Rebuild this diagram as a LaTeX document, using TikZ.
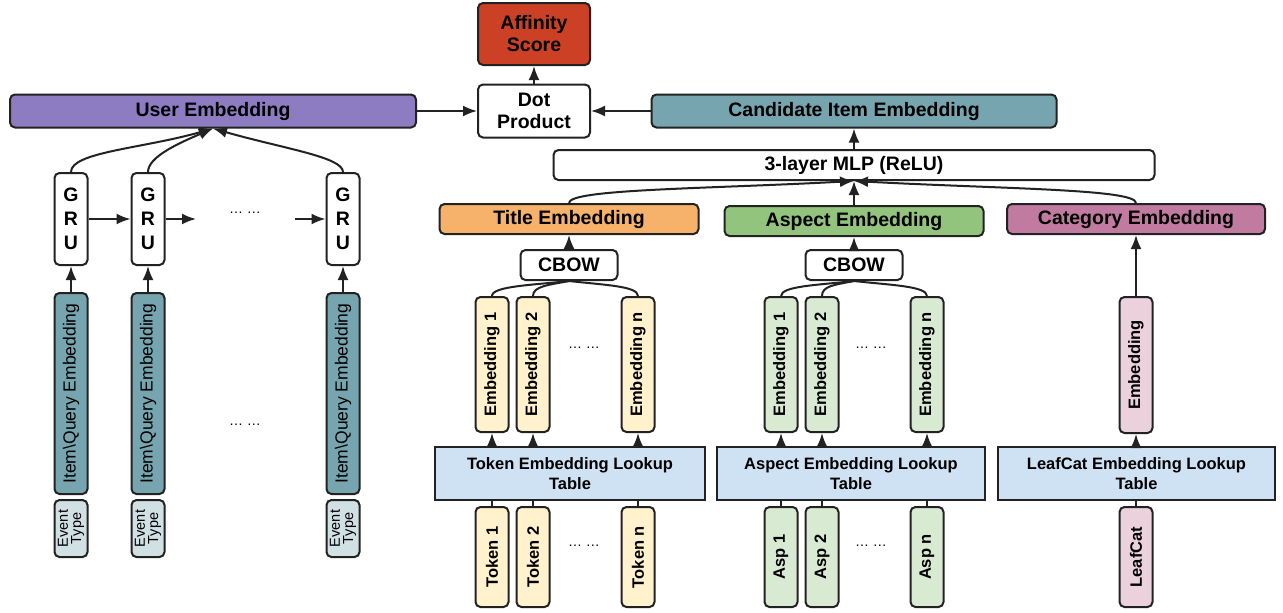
\documentclass[tikz,border=0pt]{standalone}
\usepackage{fontspec}
\setmainfont{Liberation Sans}
\usepackage{tikz}
\usetikzlibrary{positioning}
\usetikzlibrary{arrows.meta}
\definecolor{boxline}{HTML}{222222}
\definecolor{scorered}{HTML}{CC4125}
\definecolor{userpurple}{HTML}{8E7CC3}
\definecolor{itemteal}{HTML}{76A5AF}
\definecolor{titleorange}{HTML}{F6B26B}
\definecolor{aspectgreen}{HTML}{93C47D}
\definecolor{catpink}{HTML}{C27BA0}
\definecolor{tokenyellow}{HTML}{FFF2CC}
\definecolor{asplight}{HTML}{D9EAD3}
\definecolor{catlight}{HTML}{EAD1DC}
\definecolor{lookupblue}{HTML}{CFE2F3}
\definecolor{eventcyan}{HTML}{D0E0E3}

\begin{document}
\begin{tikzpicture}[x=1pt,y=-1pt,
  box/.style={draw=boxline, line width=2pt, rounded corners=5pt, inner sep=1pt, align=center, font=\bfseries\fontsize{19.5}{22}\selectfont},
  vbox/.style={box, minimum width=33pt, font=\bfseries\fontsize{16.5}{18}\selectfont},
  lookup/.style={box, rounded corners=0pt, fill=lookupblue, minimum height=53pt, font=\bfseries\fontsize{16.5}{20}\selectfont},
  link/.style={draw=boxline, line width=2pt},
  arr/.style={link, -{Latex[length=14pt,width=11pt]}},
  dots/.style={font=\fontsize{14}{14}\selectfont}
]
\useasboundingbox (0,0) rectangle (1283,613);

% top of the model
\node (score) at (534,34) [box, fill=scorered, minimum width=112pt, minimum height=62pt] {Affinity\\Score};
\node (dot) at (534,111) [box, fill=white, minimum width=112pt, minimum height=53pt] {Dot\\Product};
\node (user) at (213,111) [box, fill=userpurple, minimum width=406pt, minimum height=33pt] {User Embedding};
\node (cand) at (854,111) [box, fill=itemteal, minimum width=405pt, minimum height=33pt] {Candidate Item Embedding};
\node (mlp) at (854,165) [box, fill=white, minimum width=601pt, minimum height=30pt] {3-layer MLP (ReLU)};
\draw[arr] (user) -- (dot);
\draw[arr] (cand) -- (dot);
\draw[arr] (dot) -- (score);
\draw[arr] (mlp) -- (cand);

% user side
\node (gru1) at (71,219) [box, fill=white, minimum width=33pt, minimum height=92pt, font=\bfseries\fontsize{19.5}{24}\selectfont] {G\\R\\U};
\node (gru2) at (148,219) [box, fill=white, minimum width=33pt, minimum height=92pt, font=\bfseries\fontsize{19.5}{24}\selectfont] {G\\R\\U};
\node (gru3) at (343,219) [box, fill=white, minimum width=33pt, minimum height=92pt, font=\bfseries\fontsize{19.5}{24}\selectfont] {G\\R\\U};
\coordinate (gruout) at (196,219);
\coordinate (gruin) at (295,219);
\node (grudots) at (245,213) [dots] {… …};
\draw[arr] (gru1) -- (gru2);
\draw[arr] (gru2) -- (gruout);
\draw[arr] (gruin) -- (gru3);
\draw[arr] (gru1.north) .. controls +(0,-20) and +(-70,20) .. (user.south);
\draw[arr] (gru2.north) .. controls +(0,-15) and +(-35,15) .. (user.south);
\draw[arr] (gru3.north) .. controls +(0,-15) and +(70,20) .. (user.south);

\node (item1) at (71,393.5) [vbox, fill=itemteal, minimum height=201pt, font=\fontsize{17.5}{20}\selectfont] {\rotatebox{90}{Item\textbackslash Query Embedding}};
\node (item2) at (148,393.5) [vbox, fill=itemteal, minimum height=201pt, font=\fontsize{17.5}{20}\selectfont] {\rotatebox{90}{Item\textbackslash Query Embedding}};
\node (item3) at (343,393.5) [vbox, fill=itemteal, minimum height=201pt, font=\fontsize{17.5}{20}\selectfont] {\rotatebox{90}{Item\textbackslash Query Embedding}};
\node (itemdots) at (245,425) [dots] {… …};
\draw[arr] (item1) -- (gru1);
\draw[arr] (item2) -- (gru2);
\draw[arr] (item3) -- (gru3);

\node (event1) at (71,528.5) [vbox, fill=eventcyan, minimum height=57pt, font=\fontsize{14.5}{14}\selectfont] {\rotatebox{90}{\shortstack{Event\\Type}}};
\node (event2) at (148,528.5) [vbox, fill=eventcyan, minimum height=57pt, font=\fontsize{14.5}{14}\selectfont] {\rotatebox{90}{\shortstack{Event\\Type}}};
\node (event3) at (343,528.5) [vbox, fill=eventcyan, minimum height=57pt, font=\fontsize{14.5}{14}\selectfont] {\rotatebox{90}{\shortstack{Event\\Type}}};

% item side: headers
\node (title) at (569,219) [box, fill=titleorange, minimum width=259pt, minimum height=30pt] {Title Embedding};
\node (aspect) at (854,221) [box, fill=aspectgreen, minimum width=259pt, minimum height=30pt] {Aspect Embedding};
\node (cat) at (1136,219) [box, fill=catpink, minimum width=258pt, minimum height=30pt] {Category Embedding};
\draw[arr] (title.north) .. controls +(0,-14) and +(-150,8) .. (mlp.south);
\draw[arr] (aspect) -- (mlp);
\draw[arr] (cat.north) .. controls +(0,-14) and +(150,8) .. (mlp.south);

\node (cbowT) at (569,265) [box, fill=white, minimum width=97pt, minimum height=30pt] {CBOW};
\node (cbowA) at (854,265) [box, fill=white, minimum width=97pt, minimum height=30pt] {CBOW};
\draw[arr] (cbowT) -- (title);
\draw[arr] (cbowA) -- (aspect);

% title tokens
\node (embT1) at (492,364.5) [vbox, fill=tokenyellow, minimum height=135pt] {\rotatebox{90}{Embedding 1}};
\node (embT2) at (533,364.5) [vbox, fill=tokenyellow, minimum height=135pt] {\rotatebox{90}{Embedding 2}};
\node (embTn) at (638,364.5) [vbox, fill=tokenyellow, minimum height=135pt] {\rotatebox{90}{Embedding n}};
\node (embTdots) at (584,348) [dots] {… …};
\draw[link] (embT1.north) .. controls +(0,-10) and +(-35,4) .. (cbowT.south);
\draw[link] (embT2.north) .. controls +(0,-10) and +(-20,4) .. (cbowT.south);
\draw[link] (embTn.north) .. controls +(0,-10) and +(35,4) .. (cbowT.south);

\node (lookT) at (570,473.5) [lookup, minimum width=270pt] {Token Embedding Lookup\\Table};
\draw[arr] (lookT.north -| embT1) -- (embT1);
\draw[arr] (lookT.north -| embT2) -- (embT2);
\draw[arr] (lookT.north -| embTn) -- (embTn);

\node (tokT1) at (492,557) [vbox, fill=tokenyellow, minimum height=100pt] {\rotatebox{90}{Token 1}};
\node (tokT2) at (533,557) [vbox, fill=tokenyellow, minimum height=100pt] {\rotatebox{90}{Token 2}};
\node (tokTn) at (638,557) [vbox, fill=tokenyellow, minimum height=100pt] {\rotatebox{90}{Token n}};
\node (tokTdots) at (584,546) [dots] {… …};
\draw[link] (tokT1) -- (tokT1 |- lookT.south);
\draw[link] (tokT2) -- (tokT2 |- lookT.south);
\draw[link] (tokTn) -- (tokTn |- lookT.south);

% aspects
\node (embA1) at (781,364.5) [vbox, fill=asplight, minimum height=135pt] {\rotatebox{90}{Embedding 1}};
\node (embA2) at (822,364.5) [vbox, fill=asplight, minimum height=135pt] {\rotatebox{90}{Embedding 2}};
\node (embAn) at (927,364.5) [vbox, fill=asplight, minimum height=135pt] {\rotatebox{90}{Embedding n}};
\node (embAdots) at (871,348) [dots] {… …};
\draw[link] (embA1.north) .. controls +(0,-10) and +(-35,4) .. (cbowA.south);
\draw[link] (embA2.north) .. controls +(0,-10) and +(-20,4) .. (cbowA.south);
\draw[link] (embAn.north) .. controls +(0,-10) and +(35,4) .. (cbowA.south);

\node (lookA) at (851,473.5) [lookup, minimum width=268pt] {Aspect Embedding Lookup\\Table};
\draw[arr] (lookA.north -| embA1) -- (embA1);
\draw[arr] (lookA.north -| embA2) -- (embA2);
\draw[arr] (lookA.north -| embAn) -- (embAn);

\node (asp1) at (781,557) [vbox, fill=asplight, minimum height=100pt] {\rotatebox{90}{Asp 1}};
\node (asp2) at (822,557) [vbox, fill=asplight, minimum height=100pt] {\rotatebox{90}{Asp 2}};
\node (aspn) at (927,557) [vbox, fill=asplight, minimum height=100pt] {\rotatebox{90}{Asp n}};
\node (aspdots) at (871,546) [dots] {… …};
\draw[link] (asp1) -- (asp1 |- lookA.south);
\draw[link] (asp2) -- (asp2 |- lookA.south);
\draw[link] (aspn) -- (aspn |- lookA.south);

% leaf category
\node (embC) at (1136,365) [vbox, fill=catlight, minimum height=136pt] {\rotatebox{90}{Embedding}};
\draw[arr] (embC) -- (cat);
\node (lookC) at (1136.5,473.5) [lookup, minimum width=277pt] {LeafCat Embedding Lookup\\Table};
\draw[arr] (lookC.north -| embC) -- (embC);
\node (leaf) at (1136,557) [vbox, fill=catlight, minimum height=100pt] {\rotatebox{90}{LeafCat}};
\draw[link] (leaf) -- (leaf |- lookC.south);
\end{tikzpicture}
\end{document}
